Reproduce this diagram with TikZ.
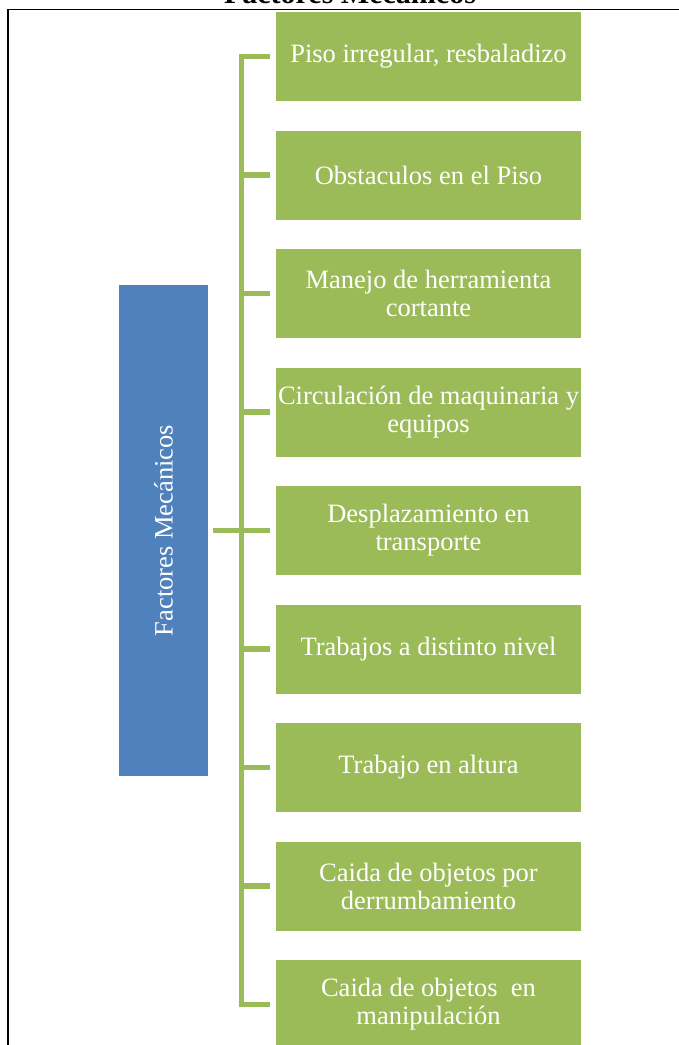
\documentclass[tikz,border=0pt]{standalone}
\usepackage{fontspec}
\setmainfont{Liberation Serif}
\usetikzlibrary{calc}
\definecolor{leafgreen}{HTML}{9BBB59}
\definecolor{rootblue}{HTML}{4F81BD}
\tikzset{
  leafbox/.style={fill=leafgreen, text=white, minimum width=305pt, minimum height=89pt,
    inner sep=0pt, align=center, font=\fontsize{26.5}{28}\selectfont},
  rootbox/.style={fill=rootblue, minimum width=89pt, minimum height=491pt, inner sep=0pt},
  roottext/.style={text=white, rotate=90, font=\fontsize{26.5}{28}\selectfont},
  conn/.style={draw=leafgreen, line width=5.5pt, line cap=butt, line join=miter},
  frameline/.style={draw=black, line width=1.8pt}
}
\begin{document}
\begin{tikzpicture}[x=1pt, y=-1pt]
  \useasboundingbox (0,0) rectangle (679,1045);
  \clip (0,0) rectangle (679,1045);

  % heading above the frame
  \node[anchor=base, font=\bfseries\fontsize{30}{32}\selectfont] (title) at (350,3) {Factores Mecánicos};

  % outer frame
  \draw[frameline] (8,1060) -- (8,9.5) -- (690,9.5);

  % root box
  \node[rootbox] (root) at (163.5,530.5) {};
  \node[roottext] (rootlabel) at (root.center) {Factores Mecánicos};

  % leaf boxes
  \node[leafbox] (l1) at (428.5,56.5)  {Piso irregular, resbaladizo};
  \node[leafbox] (l2) at (428.5,175)   {Obstaculos en el Piso};
  \node[leafbox] (l3) at (428.5,293.5) {Manejo de herramienta\\cortante};
  \node[leafbox] (l4) at (428.5,412)   {Circulación de maquinaria y\\equipos};
  \node[leafbox] (l5) at (428.5,530.5) {Desplazamiento en\\transporte};
  \node[leafbox] (l6) at (428.5,649)   {Trabajos a distinto nivel};
  \node[leafbox] (l7) at (428.5,767.5) {Trabajo en altura};
  \node[leafbox] (l8) at (428.5,886)   {Caida de objetos por\\derrumbamiento};
  \node[leafbox] (l9) at (428.5,1004.5){Caida de objetos~ en\\manipulación};

  % bracket connectors
  \draw[conn] ([xshift=-6pt]l1.west) -- ++(-28.5,0) |- ([xshift=-6pt]l9.west);
  \foreach \i in {2,...,8} {
    \draw[conn] ([xshift=-6pt]l\i.west) -- ++(-28.5,0);
  }
  \draw[conn] ([xshift=5pt]root.east) -- ++(28.5,0);
\end{tikzpicture}
\end{document}
